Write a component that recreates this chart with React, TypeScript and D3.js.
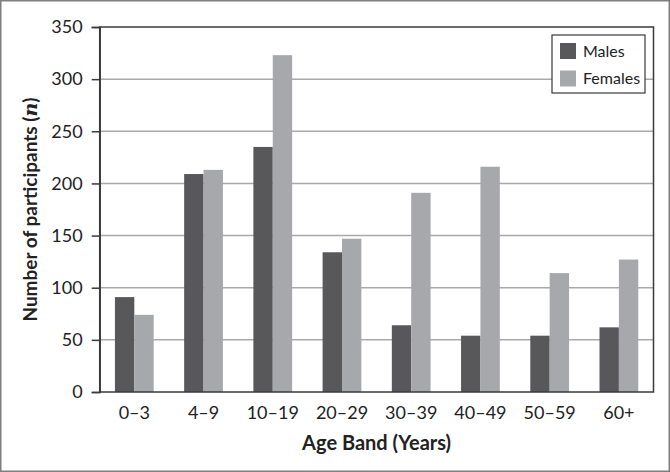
import { useEffect, useRef } from "react";
import * as d3 from "d3";

// age bands along the x axis
const ageBands = ["0–3", "4–9", "10–19", "20–29", "30–39", "40–49", "50–59", "60+"];
const males = [91, 209, 235, 134, 64, 54, 54, 62];
const females = [74, 213, 323, 147, 191, 216, 114, 127];
const seriesNames = ["Males", "Females"];
const seriesColors = ["#58585a", "#a7a8ab"];
const yTicks = [0, 50, 100, 150, 200, 250, 300, 350];

const W = 670;
const H = 472;
const FONT = "Lato, 'Open Sans', sans-serif";

export default function App() {
  const ref = useRef<SVGSVGElement>(null);

  useEffect(() => {
    const svg = d3.select(ref.current);
    svg.selectAll("*").remove();

    const margin = { top: 27, right: 16.5, bottom: 80, left: 99.7 };
    const innerW = W - margin.left - margin.right;
    const innerH = H - margin.top - margin.bottom;

    // outer frame
    svg.append("rect")
      .attr("x", 0.75).attr("y", 0.75)
      .attr("width", W - 1.5).attr("height", H - 1.5)
      .attr("fill", "#fff").attr("stroke", "#7f7f7f").attr("stroke-width", 1.5);

    const g = svg.append("g").attr("transform", `translate(${margin.left},${margin.top})`);

    const x = d3.scaleBand().domain(ageBands).range([0, innerW]).paddingInner(0.44).paddingOuter(0.22);
    const xSub = d3.scaleBand().domain(seriesNames).range([0, x.bandwidth()]);
    const y = d3.scaleLinear().domain([0, 350]).range([innerH, 0]);

    // gridlines
    g.append("g")
      .selectAll("line")
      .data(yTicks.filter((d) => d > 0 && d < 350))
      .enter()
      .append("line")
      .attr("x1", 0).attr("x2", innerW)
      .attr("y1", (d) => y(d)).attr("y2", (d) => y(d))
      .attr("stroke", "#a9a9a9").attr("stroke-width", 1.5);

    // bars
    const rows = ageBands.map((band, i) => ({ band, values: [males[i], females[i]] }));
    const groups = g.append("g")
      .selectAll("g")
      .data(rows)
      .enter()
      .append("g")
      .attr("transform", (d) => `translate(${x(d.band)},0)`);
    groups.selectAll("rect")
      .data((d) => d.values.map((v, j) => ({ key: seriesNames[j], v, c: seriesColors[j] })))
      .enter()
      .append("rect")
      .attr("x", (d) => xSub(d.key)!)
      .attr("width", xSub.bandwidth())
      .attr("y", (d) => y(d.v))
      .attr("height", (d) => innerH - y(d.v))
      .attr("fill", (d) => d.c);

    // plot border
    g.append("rect")
      .attr("x", 0).attr("y", 0)
      .attr("width", innerW).attr("height", innerH)
      .attr("fill", "none").attr("stroke", "#3a3a3a").attr("stroke-width", 1.5);

    // y axis
    const yAxis = d3.axisLeft(y).tickValues(yTicks).tickSize(8).tickPadding(9);
    const ya = g.append("g").call(yAxis);
    ya.select(".domain").attr("stroke", "#3a3a3a").attr("stroke-width", 1.5);
    ya.selectAll(".tick line").attr("stroke", "#3a3a3a").attr("stroke-width", 1.5);
    ya.selectAll(".tick text")
      .attr("font-family", FONT).attr("font-size", 18).attr("fill", "#222");

    // x axis
    const xAxis = d3.axisBottom(x).tickSize(0).tickPadding(14);
    const xa = g.append("g").attr("transform", `translate(0,${innerH})`).call(xAxis);
    xa.select(".domain").remove();
    xa.selectAll(".tick text")
      .attr("font-family", FONT).attr("font-size", 18).attr("fill", "#222");

    // axis titles
    svg.append("text")
      .attr("x", margin.left + innerW / 2).attr("y", 450)
      .attr("text-anchor", "middle")
      .attr("font-family", FONT).attr("font-size", 20).attr("font-weight", "bold").attr("fill", "#222")
      .text("Age Band (Years)");

    const yt = svg.append("text")
      .attr("transform", `translate(37,${margin.top + innerH / 2}) rotate(-90)`)
      .attr("text-anchor", "middle")
      .attr("font-family", FONT).attr("font-size", 19).attr("font-weight", "bold").attr("fill", "#222");
    yt.append("tspan").text("Number of participants (");
    yt.append("tspan").attr("font-style", "italic").attr("font-family", "'DejaVu Serif', serif").text("n");
    yt.append("tspan").text(")");

    // legend
    const lg = svg.append("g").attr("transform", "translate(552,35)");
    lg.append("rect")
      .attr("width", 93).attr("height", 58)
      .attr("fill", "#fff").attr("stroke", "#3a3a3a").attr("stroke-width", 1.2);
    seriesNames.forEach((name, i) => {
      lg.append("rect")
        .attr("x", 8).attr("y", 8 + i * 27.5)
        .attr("width", 16).attr("height", 16)
        .attr("fill", seriesColors[i]);
      lg.append("text")
        .attr("x", 31).attr("y", 21.5 + i * 27.5)
        .attr("font-family", FONT).attr("font-size", 16).attr("fill", "#222")
        .text(name);
    });
  }, []);

  return (
    <div style={{ position: "absolute", left: 0, top: 0 }}>
      <svg ref={ref} width={W} height={H} style={{ display: "block" }} />
    </div>
  );
}
